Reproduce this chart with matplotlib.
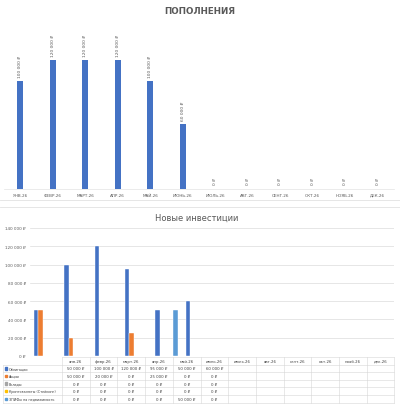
import matplotlib
matplotlib.use('Agg')
import matplotlib.pyplot as plt
import numpy as np
from matplotlib.lines import Line2D
from matplotlib.patches import Rectangle

# ---------------- data ----------------
months_top = ['ЯНВ.26', 'ФЕВР.26', 'МАРТ.26', 'АПР.26', 'МАЙ.26', 'ИЮНЬ.26',
              'ИЮЛЬ.26', 'АВГ.26', 'СЕНТ.26', 'ОКТ.26', 'НОЯБ.26', 'ДЕК.26']
top_up = [100000, 120000, 120000, 120000, 100000, 60000, 0, 0, 0, 0, 0, 0]

months = ['янв.26', 'февр.26', 'март.26', 'апр.26', 'май.26', 'июнь.26',
          'июль.26', 'авг.26', 'сент.26', 'окт.26', 'нояб.26', 'дек.26']
series_names = ['Облигации', 'Акции', 'Вклады', 'Криптовалюты (Стейкинг)',
                'ЗПИФы на недвижимость']
bonds = [50000, 100000, 120000, 95000, 50000, 60000]
stocks = [50000, 20000, 0, 25000, 0, 0]
bank_deposits = [0, 0, 0, 0, 0, 0]
crypto = [0, 0, 0, 0, 0, 0]
real_estate = [0, 0, 0, 0, 50000, 0]
series_values = [bonds, stocks, bank_deposits, crypto, real_estate]
series_colors = ['#4472C4', '#ED7D31', '#A5A5A5', '#FFC000', '#5B9BD5']
y_ticks = [0, 20000, 40000, 60000, 80000, 100000, 120000, 140000]

# ---------------- helpers ----------------
W, H = 400, 410
def fx(px):
    return px / W
def fy(py):
    return 1 - py / H
def rub(v):
    return f"{v:,.0f}".replace(',', ' ') + ' ₽'

plt.rcParams['font.family'] = ['DejaVu Sans']
fig = plt.figure(figsize=(4, 4.1), dpi=100)
fig.patch.set_facecolor('white')
txt = '#595959'

# ---------------- top chart ----------------
fig.text(0.5, fy(11), 'ПОПОЛНЕНИЯ', ha='center', va='center',
         fontsize=6.3, fontweight='bold', color=txt)

ax1 = fig.add_axes([fx(4), fy(190), fx(390), 155 / H])
x1 = np.arange(len(top_up))
ax1.bar(x1, top_up, width=0.19, color='#4472C4')
ax1.set_xlim(-0.5, 11.5)
ax1.set_ylim(0, 144000)
ax1.set_yticks([])
ax1.set_xticks(x1)
ax1.set_xticklabels(months_top, fontsize=3, color=txt)
ax1.tick_params(axis='x', length=0, pad=4.8)
for lbl in ax1.get_xticklabels():
    lbl.set_va('baseline')
for s in ['top', 'left', 'right']:
    ax1.spines[s].set_visible(False)
ax1.spines['bottom'].set_color('#E3E3E3')
ax1.spines['bottom'].set_linewidth(0.5)
for i, v in enumerate(top_up):
    ax1.annotate(rub(v), xy=(i, v), xytext=(0, 3 if v else 3.5),
                 textcoords='offset points', rotation=90, ha='center',
                 va='bottom', fontsize=3.2, color=txt)

# separators
for yy in (201, 208):
    fig.add_artist(Line2D([0, 1], [fy(yy), fy(yy)], color='#E2E2E2', lw=0.6,
                          transform=fig.transFigure))

# ---------------- bottom chart ----------------
fig.text(fx(197), fy(218), 'Новые инвестиции', ha='center', va='center',
         fontsize=6, color=txt)

ax2 = fig.add_axes([fx(30), fy(357), fx(364), 128 / H])
bw = 0.148
for k, (vals, col) in enumerate(zip(series_values, series_colors)):
    xs = np.arange(len(vals)) + (k - 2) * bw
    ax2.bar(xs, vals, width=bw, color=col, edgecolor='white', linewidth=0.3,
            zorder=3)
ax2.set_xlim(-0.5, 11.5)
ax2.set_ylim(0, 140000)
ax2.set_yticks(y_ticks)
ax2.set_yticklabels([rub(t) for t in y_ticks], fontsize=3, color=txt)
ax2.tick_params(axis='y', length=0, pad=3)
ax2.set_xticks([])
ax2.grid(axis='y', color='#DCDCDC', linewidth=0.5, zorder=0)
for s in ['top', 'left', 'right', 'bottom']:
    ax2.spines[s].set_visible(False)

# ---------------- data table ----------------
col_left, col_w = 62, 27.7
row_top, row_h = 358, 7.6
n_rows = len(series_names)
table_right = col_left + col_w * len(months)
table_bottom = row_top + row_h * (n_rows + 1)
lc = '#D6D6D6'
def hline(y, x0, x1):
    fig.add_artist(Line2D([fx(x0), fx(x1)], [fy(y), fy(y)], color=lc, lw=0.4,
                          transform=fig.transFigure))
def vline(x, y0, y1):
    fig.add_artist(Line2D([fx(x), fx(x)], [fy(y0), fy(y1)], color=lc, lw=0.4,
                          transform=fig.transFigure))

hline(row_top, col_left, table_right)
for r in range(1, n_rows + 2):
    hline(row_top + r * row_h, 3, table_right)
for j in range(len(months) + 1):
    vline(col_left + j * col_w, row_top, table_bottom)
vline(3, row_top + row_h, table_bottom)

tfs = 2.8
tc = '#404040'
for j, m in enumerate(months):
    fig.text(fx(col_left + (j + 0.5) * col_w), fy(row_top + row_h / 2), m,
             ha='center', va='center', fontsize=tfs, color=tc)
for r, (name, vals, col) in enumerate(zip(series_names, series_values,
                                          series_colors)):
    yc = row_top + (r + 1.5) * row_h
    fig.add_artist(Rectangle((fx(4.5), fy(yc + 1.2)), fx(2.4), 2.4 / H,
                             color=col, transform=fig.transFigure))
    fig.text(fx(9), fy(yc), name, ha='left', va='center', fontsize=2.45,
             color=tc)
    for j, v in enumerate(vals):
        fig.text(fx(col_left + (j + 0.5) * col_w), fy(yc), rub(v),
                 ha='center', va='center', fontsize=tfs, color=tc)

fig.savefig('out.png', dpi=100, facecolor='white')
